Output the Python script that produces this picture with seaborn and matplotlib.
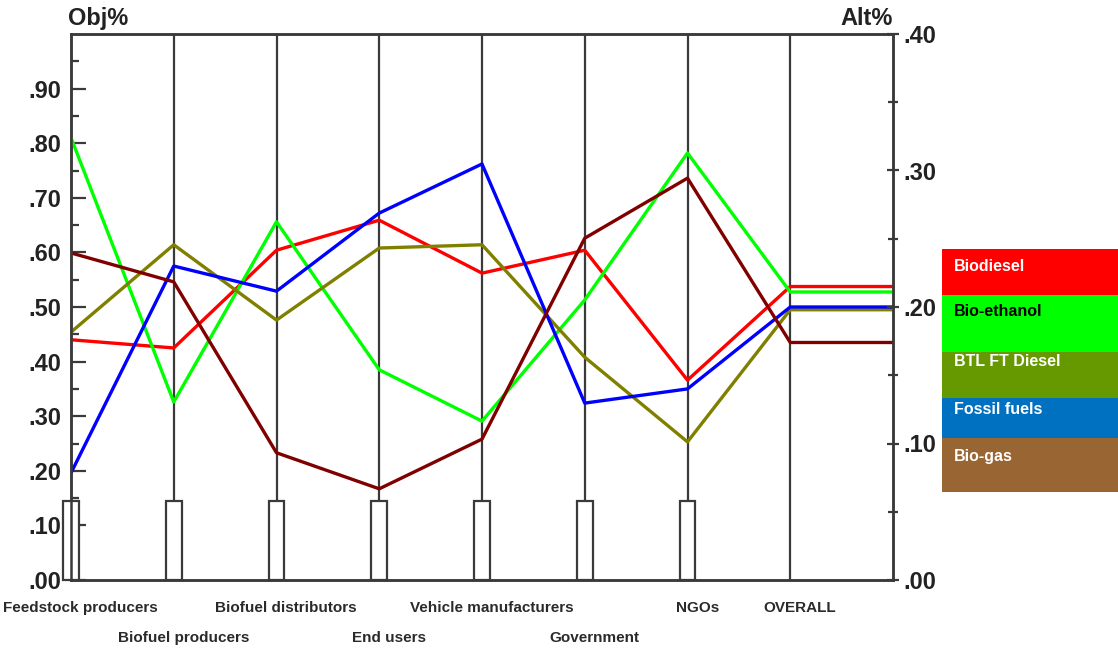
import matplotlib
matplotlib.use("Agg")
import matplotlib.pyplot as plt
from matplotlib.patches import Rectangle
import numpy as np
import pandas as pd
import seaborn as sns

# criteria along the x axis (last one is the overall synthesis)
criteria = ["Feedstock producers", "Biofuel producers", "Biofuel distributors", "End users",
            "Vehicle manufacturers", "Government", "NGOs", "OVERALL"]
label_row = [0, 1, 0, 1, 0, 1, 0, 0]
# criterion weights (bars at the bottom, Obj%)
weights = [0.145, 0.145, 0.145, 0.145, 0.145, 0.145, 0.145]

alternatives = ["Biodiesel", "Bio-ethanol", "BTL FT Diesel", "Fossil fuels", "Bio-gas"]
# priorities of each alternative per criterion (Obj% scale)
biodiesel = [0.440, 0.425, 0.604, 0.659, 0.562, 0.604, 0.366]
bioethanol = [0.810, 0.326, 0.656, 0.385, 0.291, 0.513, 0.782]
btl_ft_diesel = [0.454, 0.614, 0.476, 0.608, 0.614, 0.408, 0.253]
fossil_fuels = [0.196, 0.575, 0.529, 0.672, 0.762, 0.324, 0.350]
biogas = [0.599, 0.546, 0.233, 0.167, 0.258, 0.626, 0.736]
# overall priorities (Alt% scale)
overall = [0.215, 0.211, 0.198, 0.200, 0.174]

left_ticks = [".00", ".10", ".20", ".30", ".40", ".50", ".60", ".70", ".80", ".90"]
right_ticks = [".00", ".10", ".20", ".30", ".40"]

line_colors = ["#ff0000", "#00ff00", "#808000", "#0000ff", "#800000"]
legend_colors = ["#ff0000", "#00ff00", "#669900", "#0070c0", "#996633"]
legend_text = ["white", "black", "white", "white", "white"]

OBJ_MAX = 1.0
ALT_MAX = 0.4

sns.set_style("white")
plt.rcParams["font.family"] = ["Liberation Sans", "DejaVu Sans"]

series = [biodiesel, bioethanol, btl_ft_diesel, fossil_fuels, biogas]
n = len(criteria)
rows = []
for name, vals, ov in zip(alternatives, series, overall):
    for i, v in enumerate(vals):
        rows.append({"alt": name, "pos": i, "value": v})
    # overall point and its tail to the right axis, drawn in Obj% units
    rows.append({"alt": name, "pos": n - 1, "value": ov / ALT_MAX * OBJ_MAX})
    rows.append({"alt": name, "pos": n, "value": ov / ALT_MAX * OBJ_MAX})
df = pd.DataFrame(rows)

fig = plt.figure(figsize=(11.18, 6.5), dpi=100)
ax = fig.add_axes([71 / 1118, 1 - 580 / 650, (893 - 71) / 1118, (580 - 34) / 650])

axis_col = "#3a3a3a"
for i in range(1, n):
    ax.axvline(i, color=axis_col, lw=1.6, zorder=1)

ax.bar(range(len(weights)), weights, width=0.155, color="white",
       edgecolor=axis_col, linewidth=1.6, zorder=3, clip_on=False)

sns.lineplot(data=df, x="pos", y="value", hue="alt", palette=line_colors,
             hue_order=alternatives, linewidth=2.4, legend=False, sort=False,
             estimator=None, ax=ax, zorder=4)

ax.set_xlim(0, n)
ax.set_ylim(0, OBJ_MAX)
ax.set_xlabel("")
ax.set_ylabel("")
ax.set_xticks([])
ax.set_yticks(np.arange(len(left_ticks)) * 0.1)
ax.set_yticklabels(left_ticks)
ax.set_yticks(np.arange(1, 20, 2) * 0.05, minor=True)
ax.tick_params(axis="y", which="major", direction="in", length=11, width=1.6,
               color=axis_col, pad=7, labelsize=17, labelcolor="#222222")
ax.tick_params(axis="y", which="minor", direction="in", length=6, width=1.6, color=axis_col)
for lab in ax.get_yticklabels():
    lab.set_fontweight("bold")

ax2 = ax.twinx()
ax2.set_ylim(0, ALT_MAX)
ax2.set_yticks(np.arange(len(right_ticks)) * 0.1)
ax2.set_yticklabels(right_ticks)
ax2.set_yticks([0.05, 0.15, 0.25, 0.35], minor=True)
ax2.tick_params(axis="y", which="major", direction="inout", length=9, width=1.6,
                color=axis_col, pad=3, labelsize=17, labelcolor="#222222")
ax2.tick_params(axis="y", which="minor", direction="inout", length=7, width=1.6, color=axis_col)
for lab in ax2.get_yticklabels():
    lab.set_fontweight("bold")

for a in (ax, ax2):
    for s in a.spines.values():
        s.set_color(axis_col)
        s.set_linewidth(1.8)
        s.set_visible(True)

ax.annotate("Obj%", xy=(0, 1), xycoords="axes fraction", xytext=(-2, 3),
            textcoords="offset points", ha="left", va="bottom",
            fontsize=17, fontweight="bold", color="#222222")
ax.annotate("Alt%", xy=(1, 1), xycoords="axes fraction", xytext=(0, 3),
            textcoords="offset points", ha="right", va="bottom",
            fontsize=17, fontweight="bold", color="#222222")

# staggered category labels
for i, name in enumerate(criteria):
    dy = -20 if label_row[i] == 0 else -42
    ax.annotate(name, xy=(i, 0), xycoords=("data", "axes fraction"),
                xytext=(7, dy), textcoords="offset points", ha="center", va="center",
                fontsize=11, fontweight="bold", color="#2a2a2a")

# colour-block legend on the right
bounds = [249, 295, 352, 398, 438, 492]
text_y = [266, 312, 361, 409, 457]
W, H = 1118, 650
for k, name in enumerate(alternatives):
    y0, y1 = bounds[k], bounds[k + 1]
    fig.add_artist(Rectangle((942 / W, 1 - y1 / H), (W - 942) / W, (y1 - y0) / H,
                             transform=fig.transFigure, facecolor=legend_colors[k],
                             edgecolor="none"))
    fig.text(954 / W, 1 - text_y[k] / H, name, ha="left", va="center",
             fontsize=11.5, fontweight="bold", color=legend_text[k])

fig.savefig("out.png", dpi=100)
